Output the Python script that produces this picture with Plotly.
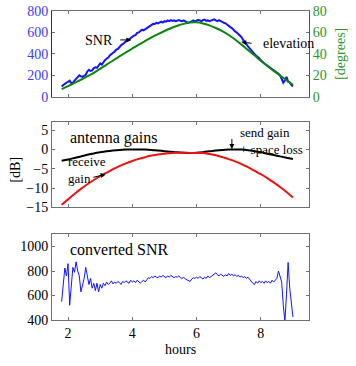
import plotly.graph_objects as go

# ---------------- data ----------------
hours_fine = [1.80, 1.85, 1.90, 1.95, 2.00, 2.05, 2.10, 2.15, 2.20, 2.25, 2.30, 2.35, 2.40, 2.45, 2.50,
              2.55, 2.60, 2.65, 2.70, 2.75, 2.80, 2.85, 2.90, 2.95, 3.00, 3.05, 3.10, 3.15, 3.20, 3.25,
              3.30, 3.35, 3.40, 3.45, 3.50, 3.55, 3.60, 3.65, 3.70, 3.75, 3.80, 3.85, 3.90, 3.95, 4.00,
              4.05, 4.10, 4.15, 4.20, 4.25, 4.30, 4.35, 4.40, 4.45, 4.50, 4.55, 4.60, 4.65, 4.70, 4.75,
              4.80, 4.85, 4.90, 4.95, 5.00, 5.05, 5.10, 5.15, 5.20, 5.25, 5.30, 5.35, 5.40, 5.45, 5.50,
              5.55, 5.60, 5.65, 5.70, 5.75, 5.80, 5.85, 5.90, 5.95, 6.00, 6.05, 6.10, 6.15, 6.20, 6.25,
              6.30, 6.35, 6.40, 6.45, 6.50, 6.55, 6.60, 6.65, 6.70, 6.75, 6.80, 6.85, 6.90, 6.95, 7.00,
              7.05, 7.10, 7.15, 7.20, 7.25, 7.30, 7.35, 7.40, 7.45, 7.50, 7.55, 7.60, 7.65, 7.70, 7.75,
              7.80, 7.85, 7.90, 7.95, 8.00, 8.05, 8.10, 8.15, 8.20, 8.25, 8.30, 8.35, 8.40, 8.45, 8.50,
              8.55, 8.60, 8.65, 8.70, 8.75, 8.80, 8.85, 8.90, 8.95, 9.00]

snr = [95, 110, 120, 130, 140, 150, 125, 130, 150, 170, 185, 200, 190, 185, 195,
       205, 235, 250, 240, 245, 265, 275, 270, 290, 310, 300, 325, 340, 355, 365,
       385, 400, 410, 420, 440, 445, 465, 480, 490, 505, 520, 530, 535, 550, 560,
       570, 575, 595, 600, 610, 625, 620, 630, 640, 655, 660, 675, 680, 678, 690,
       685, 695, 700, 692, 705, 700, 712, 705, 715, 708, 712, 705, 710, 715, 708,
       705, 712, 700, 695, 690, 700, 705, 712, 702, 710, 718, 712, 705, 715, 720,
       708, 712, 705, 710, 718, 722, 712, 705, 715, 705, 698, 690, 685, 670, 660,
       650, 640, 622, 610, 600, 585, 570, 555, 530, 505, 490, 470, 450, 435, 415,
       400, 385, 375, 360, 340, 325, 310, 300, 290, 280, 265, 255, 245, 235, 228,
       215, 200, 160, 130, 150, 185, 140, 135, 110, 95]

converted_snr = [550, 700, 825, 760, 860, 520, 690, 830, 790, 875, 800, 760, 630, 690, 740,
                 830, 770, 690, 740, 660, 700, 640, 700, 630, 690, 660, 700, 680, 710, 690,
                 700, 720, 695, 710, 700, 715, 705, 690, 715, 705, 720, 710, 700, 725, 710,
                 720, 705, 725, 710, 700, 715, 725, 710, 730, 745, 740, 755, 745, 760, 750,
                 745, 760, 750, 765, 755, 745, 760, 750, 765, 755, 745, 755, 750, 760, 745,
                 740, 750, 735, 730, 720, 715, 735, 745, 740, 750, 740, 755, 745, 735, 750,
                 740, 760, 745, 755, 765, 775, 785, 770, 760, 775, 765, 755, 770, 760, 780,
                 765, 775, 760, 770, 755, 765, 750, 760, 745, 755, 740, 750, 730, 720, 700,
                 690, 715, 700, 720, 705, 715, 700, 720, 705, 715, 700, 725, 710, 730, 740,
                 800, 760, 710, 520, 390, 610, 870, 660, 560, 425]

hours_coarse = [1.8, 2.0, 2.2, 2.4, 2.6, 2.8, 3.0, 3.2, 3.4, 3.6, 3.8, 4.0, 4.2, 4.4, 4.6, 4.8,
                5.0, 5.2, 5.4, 5.6, 5.8, 6.0, 6.2, 6.4, 6.6, 6.8, 7.0, 7.2, 7.4, 7.6, 7.8, 8.0,
                8.2, 8.4, 8.6, 8.8, 9.0]

elevation_deg = [7.0, 9.8, 12.8, 15.8, 18.9, 22.2, 26.0, 30.0, 33.8, 37.6, 41.3, 45.0, 48.6, 52.0,
                 55.3, 58.4, 61.3, 63.9, 66.2, 68.0, 69.2, 69.4, 68.4, 66.6, 64.1, 61.1, 57.6, 53.4,
                 48.6, 43.6, 38.6, 33.6, 28.8, 24.1, 19.7, 15.3, 11.0]

send_gain_db = [-2.9, -2.6, -2.2, -1.8, -1.4, -1.05, -0.75, -0.5, -0.3, -0.15, -0.05, 0.0, 0.0,
                -0.05, -0.15, -0.3, -0.45, -0.6, -0.75, -0.85, -0.9, -0.85, -0.7, -0.5, -0.3,
                -0.15, -0.05, 0.0, -0.05, -0.2, -0.45, -0.75, -1.1, -1.45, -1.8, -2.15, -2.5]

receive_gain_db = [-14.3, -12.9, -11.5, -10.2, -9.0, -7.9, -6.9, -6.0, -5.1, -4.3, -3.6, -3.0,
                   -2.45, -2.0, -1.6, -1.3, -1.1, -0.95, -0.85, -0.85, -0.9, -0.9, -0.95, -1.2,
                   -1.5, -2.0, -2.5, -3.1, -3.8, -4.6, -5.5, -6.4, -7.4, -8.5, -9.7, -11.0, -12.4]

x_ticks = [2, 4, 6, 8]

assert len(hours_fine) == len(snr) == len(converted_snr)
assert len(hours_coarse) == len(elevation_deg) == len(send_gain_db) == len(receive_gain_db)

# ---------------- styles ----------------
FONT = "Liberation Serif, Times New Roman, DejaVu Serif, serif"
BLUE = "#1414ff"
TBLUE = "#3c3cff"
GREEN = "#0a870a"
TGREEN = "#2a962a"
FRAME = "#707070"
FS = 14
FS_SMALL = 13
FS_BIG = 16

fig = go.Figure()

fig.add_trace(go.Scatter(x=hours_fine, y=snr, mode="lines", xaxis="x", yaxis="y",
                         line=dict(color=BLUE, width=2), showlegend=False, hoverinfo="skip"))
fig.add_trace(go.Scatter(x=hours_coarse, y=elevation_deg, mode="lines", xaxis="x", yaxis="y2",
                         line=dict(color=GREEN, width=2, shape="spline"), showlegend=False,
                         hoverinfo="skip"))
fig.add_trace(go.Scatter(x=hours_coarse, y=send_gain_db, mode="lines", xaxis="x2", yaxis="y3",
                         line=dict(color="black", width=2, shape="spline"), showlegend=False,
                         hoverinfo="skip"))
fig.add_trace(go.Scatter(x=hours_coarse, y=receive_gain_db, mode="lines", xaxis="x2", yaxis="y3",
                         line=dict(color="#ee1111", width=2, shape="spline"), showlegend=False,
                         hoverinfo="skip"))
fig.add_trace(go.Scatter(x=hours_fine, y=converted_snr, mode="lines", xaxis="x3", yaxis="y4",
                         line=dict(color=BLUE, width=1), showlegend=False, hoverinfo="skip"))

xcommon = dict(range=[1.5, 9.5], tickvals=x_ticks, ticks="inside", ticklen=3, tickcolor=FRAME,
               showline=True, linecolor=FRAME, linewidth=1, mirror="ticks", showgrid=False,
               zeroline=False, automargin=False,
               tickfont=dict(family=FONT, size=FS, color="black"))
ycommon = dict(ticks="inside", ticklen=3, tickcolor=FRAME, showline=True, linecolor=FRAME,
               linewidth=1, mirror="ticks", showgrid=False, zeroline=False, automargin=False,
               ticklabeloverflow="allow",
               tickfont=dict(family=FONT, size=FS, color="black"))

top_dom = [0.7227, 1.0]
mid_dom = [0.3641, 0.6398]
bot_dom = [0.0, 0.2773]

fig.update_layout(
    width=356, height=366,
    margin=dict(l=52, r=47, t=11, b=46, autoexpand=False),
    paper_bgcolor="white", plot_bgcolor="white",
    font=dict(family=FONT, size=FS, color="black"),
    xaxis=dict(xcommon, domain=[0, 1], anchor="y", showticklabels=False),
    yaxis=dict(ycommon, domain=top_dom, anchor="x", range=[0, 800], dtick=200,
               linecolor=BLUE, mirror=False,
               tickfont=dict(family=FONT, size=FS, color=TBLUE)),
    yaxis2=dict(ycommon, overlaying="y", side="right", anchor="x", range=[0, 80], dtick=20,
                linecolor=GREEN, mirror=False,
                tickfont=dict(family=FONT, size=FS, color=TGREEN)),
    xaxis2=dict(xcommon, domain=[0, 1], anchor="y3", showticklabels=False),
    yaxis3=dict(ycommon, domain=mid_dom, anchor="x2", range=[-15, 7],
                tickvals=[-15, -10, -5, 0, 5], ticktext=["\u221215", "\u221210", "\u22125", "0", "5"]),
    xaxis3=dict(xcommon, domain=[0, 1], anchor="y4"),
    yaxis4=dict(ycommon, domain=bot_dom, anchor="x3", range=[400, 1100],
                tickvals=[400, 600, 800, 1000]),
)

txt = dict(family=FONT, size=FS, color="black")
small = dict(family=FONT, size=FS_SMALL, color="black")
big = dict(family=FONT, size=FS_BIG, color="black")
arrow = dict(text="", showarrow=True, arrowhead=2, arrowsize=1, arrowwidth=1,
             arrowcolor="black", standoff=0, startstandoff=0)
ann = []
# top panel labels
ann.append(dict(x=3.46, y=527, xref="x", yref="y", text="SNR", showarrow=False,
                xanchor="right", yanchor="middle", font=txt))
ann.append(dict(arrow, x=3.97, y=530, ax=3.58, ay=530, xref="x", yref="y", axref="x", ayref="y"))
ann.append(dict(x=8.0, y=497, xref="x", yref="y", text="elevation", showarrow=False,
                xanchor="left", yanchor="middle", font=txt))
ann.append(dict(arrow, x=7.39, y=510, ax=7.76, ay=497, xref="x", yref="y", axref="x", ayref="y"))
# middle panel labels
ann.append(dict(x=2.0, y=2.85, xref="x2", yref="y3", text="antenna gains", showarrow=False,
                xanchor="left", yanchor="middle", font=big))
ann.append(dict(x=1.95, y=-5.3, xref="x2", yref="y3", text="receive<br>gain", showarrow=False,
                xanchor="left", yanchor="middle", align="left", font=small))
ann.append(dict(arrow, x=3.17, y=-6.45, ax=2.74, ay=-7.3, xref="x2", yref="y3", axref="x2",
                ayref="y3"))
ann.append(dict(x=7.3, y=2.2, xref="x2", yref="y3", text="send gain<br>+ space loss",
                showarrow=False, xanchor="left", yanchor="middle", align="left", font=small))
ann.append(dict(arrow, x=7.1, y=0.1, ax=7.1, ay=3.1, xref="x2", yref="y3", axref="x2",
                ayref="y3"))
# bottom panel label
ann.append(dict(x=2.0, y=972, xref="x3", yref="y4", text="converted SNR", showarrow=False,
                xanchor="left", yanchor="middle", font=big))
# axis titles
ann.append(dict(x=-0.14, y=(mid_dom[0] + mid_dom[1]) / 2 - 0.015, xref="paper", yref="paper",
                text="[dB]", showarrow=False, textangle=-90, xanchor="center", yanchor="middle",
                font=txt))
ann.append(dict(x=1.1245, y=(top_dom[0] + top_dom[1]) / 2, xref="paper", yref="paper",
                text="[degrees]", showarrow=False, textangle=-90, xanchor="center",
                yanchor="middle", font=dict(family=FONT, size=FS, color=TGREEN)))
ann.append(dict(x=0.5, y=-0.0939, xref="paper", yref="paper", text="hours", showarrow=False,
                xanchor="center", yanchor="middle", font=txt))
fig.update_layout(annotations=ann)

fig.write_html("out.html", config={"displayModeBar": False, "staticPlot": True},
               post_script="document.body.style.margin='0';")
